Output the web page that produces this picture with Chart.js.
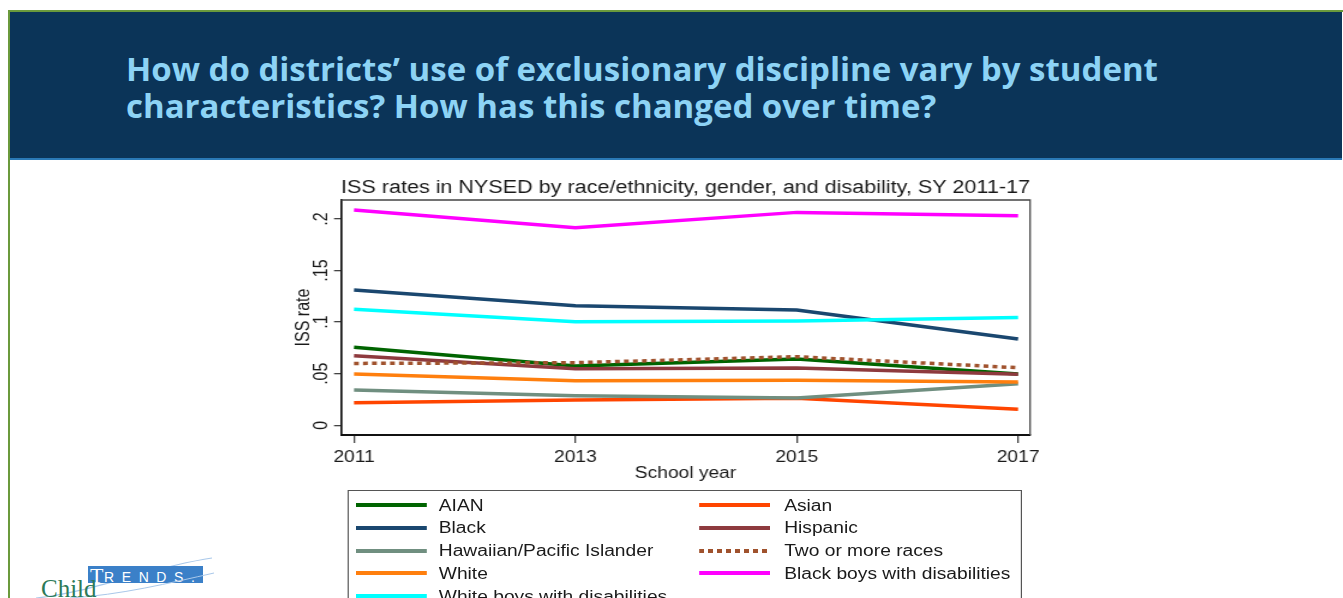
<!DOCTYPE html>
<html>
<head>
<meta charset="utf-8">
<title>ISS rates in NYSED</title>
<script src="https://cdn.jsdelivr.net/npm/chart.js@4.4.0/dist/chart.umd.min.js"></script>
<style>
    html, body {
        margin: 0;
        padding: 0;
        background: #ffffff;
    }
    body {
        position: relative;
        width: 1343px;
        height: 598px;
        overflow: hidden;
        font-family: "Liberation Sans", Arial, sans-serif;
    }
    .frame-top {
        position: absolute;
        left: 8px;
        top: 10px;
        width: 1335px;
        height: 2px;
        background: #6b9a3c;
    }
    .frame-left {
        position: absolute;
        left: 8px;
        top: 10px;
        width: 2px;
        height: 588px;
        background: #6b9a3c;
    }
    .header {
        position: absolute;
        left: 10px;
        top: 12px;
        width: 1332px;
        height: 146px;
        background: #0b3458;
        border-bottom: 2px solid #2a79b6;
    }
    .header h1 {
        position: absolute;
        left: 116px;
        top: 38px;
        margin: 0;
        font-family: "Open Sans", "Noto Sans", sans-serif;
        font-weight: 700;
        font-size: 33px;
        line-height: 37px;
        color: #8dd3f5;
        white-space: nowrap;
    }
    /* the reference graph is stretched sideways, so is this block */
    .stretch {
        position: absolute;
        left: 260px;
        top: 170px;
        width: 902px;
        height: 460px;
        transform-origin: 0 0;
        transform: scaleX(1.2);
    }
    #iss-chart {
        position: absolute;
        left: 0;
        top: 0;
    }
    .legend {
        position: absolute;
        left: 73px;
        top: 320px;
        width: 562px;
        height: 140px;
        border: 1.5px solid #555;
        box-sizing: border-box;
    }
    .legend-item {
        position: absolute;
        height: 20px;
        font-size: 16px;
        line-height: 20px;
        color: #1a1a1a;
        white-space: nowrap;
    }
    .legend-line {
        position: absolute;
        left: 0;
        top: 7.5px;
        width: 59px;
        height: 4px;
    }
    .legend-text {
        position: absolute;
        top: 0;
        left: 69px;
    }
    .logo {
        position: absolute;
        left: 30px;
        top: 555px;
    }
</style>
</head>
<body>
<div class="frame-top"></div>
<div class="frame-left"></div>
<div class="header">
    <h1>How do districts’ use of exclusionary discipline vary by student<br>characteristics? How has this changed over time?</h1>
</div>

<div class="stretch">
    <canvas id="iss-chart" width="667" height="320"></canvas>
    <div class="legend" id="legend"></div>
</div>

<svg class="logo" width="190" height="43" viewBox="0 0 190 43">
    <path d="M6 43 C 60 38, 120 12, 182 3" stroke="#a9c8ea" stroke-width="1.2" fill="none"/>
    <rect x="58" y="11" width="115" height="17" fill="#3b80c8"/>
    <text x="60" y="27.5" font-family="'Liberation Serif', serif" font-size="22" fill="#ffffff">T</text>
    <text x="74" y="27" font-family="'Liberation Sans', sans-serif" font-size="14" letter-spacing="7.6" fill="#ffffff">RENDS.</text>
    <path d="M40 43 C 90 40, 140 28, 184 18" stroke="#a9c8ea" stroke-width="1" fill="none"/>
    <text x="11" y="42" font-family="'Liberation Serif', serif" font-size="25" fill="#2c7a57">Child</text>
</svg>

<script>
// Data
const schoolYears = [2011, 2013, 2015, 2017];
const yTicks = [0, 0.05, 0.1, 0.15, 0.2];

const aian = [0.0756, 0.0575, 0.0642, 0.0497];
const asian = [0.0219, 0.0245, 0.0262, 0.0155];
const black = [0.1311, 0.1159, 0.1117, 0.0836];
const hispanic = [0.0675, 0.0549, 0.0555, 0.0494];
const hawaiian = [0.0342, 0.0287, 0.0265, 0.0403];
const twoOrMore = [0.0600, 0.0607, 0.0665, 0.0558];
const white = [0.0497, 0.0432, 0.0436, 0.0420];
const blackBoysDis = [0.2086, 0.1915, 0.2064, 0.2031];
const whiteBoysDis = [0.1124, 0.1004, 0.1010, 0.1046];

const seriesLabels = [
    'AIAN', 'Asian', 'Black', 'Hispanic', 'Hawaiian/Pacific Islander',
    'Two or more races', 'White', 'Black boys with disabilities', 'White boys with disabilities'
];
const seriesValues = [aian, asian, black, hispanic, hawaiian, twoOrMore, white, blackBoysDis, whiteBoysDis];

// Stata-like colours
const seriesColors = ['#006400', '#ff4500', '#1a476f', '#8e3a3e', '#708f80', '#a0522d', '#ff7f0e', '#ff00ff', '#00ffff'];
const dottedSeries = 'Two or more races';

const font = '"Liberation Sans", Arial, sans-serif';

// Top and right sides of the plot region
const plotFrame = {
    id: 'plotFrame',
    beforeDatasetsDraw(chart) {
        const { ctx, chartArea: a } = chart;
        ctx.save();
        ctx.strokeStyle = '#444';
        ctx.lineWidth = 1.3;
        ctx.beginPath();
        ctx.moveTo(a.left, a.top);
        ctx.lineTo(a.right, a.top);
        ctx.lineTo(a.right, a.bottom);
        ctx.stroke();
        ctx.restore();
    }
};

function buildDatasets() {
    return seriesLabels.map((label, i) => ({
        label: label,
        data: seriesValues[i].map((v, j) => ({ x: schoolYears[j], y: v })),
        borderColor: seriesColors[i],
        backgroundColor: seriesColors[i],
        borderWidth: 3.5,
        borderDash: label === dottedSeries ? [4, 3.5] : [],
        borderCapStyle: 'butt',
        pointRadius: 0,
        tension: 0,
        fill: false,
        order: -i
    }));
}

function initChart() {
    const ctx = document.getElementById('iss-chart').getContext('2d');
    return new Chart(ctx, {
        type: 'line',
        data: { datasets: buildDatasets() },
        plugins: [plotFrame],
        options: {
            responsive: false,
            animation: false,
            devicePixelRatio: 1,
            layout: { padding: { left: 0, right: 25.3, top: 0, bottom: 0 } },
            plugins: {
                legend: { display: false },
                tooltip: { enabled: false },
                title: {
                    display: true,
                    fullSize: false,
                    text: 'ISS rates in NYSED by race/ethnicity, gender, and disability, SY 2011-17',
                    color: '#1a1a1a',
                    font: { family: font, size: 18, weight: 'normal' },
                    padding: { top: 6.8, bottom: 1.6 }
                }
            },
            scales: {
                x: {
                    type: 'linear',
                    min: 2010.8825,
                    max: 2017.108,
                    afterBuildTicks: scale => { scale.ticks = schoolYears.map(v => ({ value: v })); },
                    afterFit: scale => { scale.height = 55; },
                    ticks: {
                        color: '#1a1a1a',
                        font: { family: font, size: 16 },
                        padding: 5,
                        maxRotation: 0,
                        callback: v => String(v)
                    },
                    grid: { drawOnChartArea: false, drawTicks: true, tickLength: 8, color: '#444', lineWidth: 1.3 },
                    border: { display: true, color: '#111', width: 2 },
                    title: {
                        display: true,
                        text: 'School year',
                        color: '#1a1a1a',
                        font: { family: font, size: 16 },
                        padding: { top: 0, bottom: 6.5 }
                    }
                },
                y: {
                    type: 'linear',
                    min: -0.0094,
                    max: 0.2184,
                    afterBuildTicks: scale => { scale.ticks = yTicks.map(v => ({ value: v })); },
                    afterFit: scale => { scale.width = 67.5; },
                    ticks: {
                        color: '#1a1a1a',
                        font: { family: font, size: 16 },
                        minRotation: 90,
                        maxRotation: 90,
                        crossAlign: 'center',
                        padding: -1.5,
                        callback: v => v === 0 ? '0' : String(+v.toFixed(2)).replace(/^0/, '')
                    },
                    grid: { drawOnChartArea: false, drawTicks: true, tickLength: 5.8, color: '#444', lineWidth: 1.3 },
                    border: { display: true, color: '#111', width: 1.7 },
                    title: {
                        display: true,
                        text: 'ISS rate',
                        color: '#1a1a1a',
                        font: { family: font, size: 16 },
                        padding: { top: 26.8, bottom: 0 }
                    }
                }
            }
        }
    });
}

// Two-column legend like the Stata one
function buildLegend(chart) {
    const box = document.getElementById('legend');
    chart.data.datasets.forEach((ds, i) => {
        const col = i % 2;
        const row = Math.floor(i / 2);
        const item = document.createElement('div');
        item.className = 'legend-item';
        item.style.left = (col === 0 ? 6 : 291.8) + 'px';
        item.style.top = (4.5 + row * 22.8) + 'px';

        const line = document.createElement('div');
        line.className = 'legend-line';
        if (ds.label === dottedSeries) {
            line.style.background = 'repeating-linear-gradient(to right, ' + ds.borderColor + ' 0 4px, transparent 4px 7.5px)';
        } else {
            line.style.background = ds.borderColor;
        }
        const text = document.createElement('span');
        text.className = 'legend-text';
        text.style.left = (col === 0 ? 69 : 71) + 'px';
        text.textContent = ds.label;

        item.appendChild(line);
        item.appendChild(text);
        box.appendChild(item);
    });
}

document.addEventListener('DOMContentLoaded', () => {
    const chart = initChart();
    buildLegend(chart);
});
</script>
</body>
</html>
